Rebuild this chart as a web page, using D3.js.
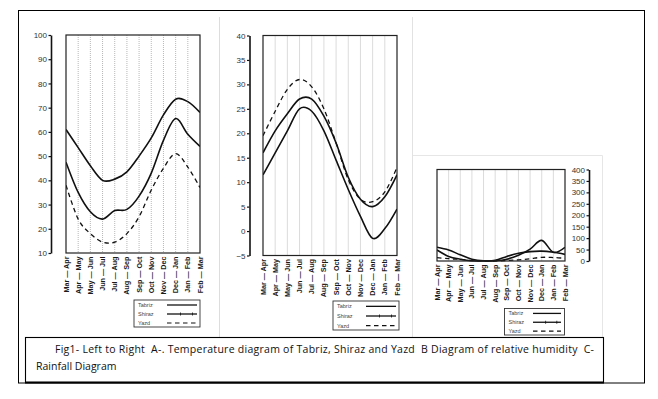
<!DOCTYPE html>
<html lang="en">
<head>
<meta charset="UTF-8">
<title>Fig1 - Tabriz, Shiraz, Yazd</title>
<script src="https://d3js.org/d3.v7.min.js"></script>
<style>
  body { margin: 0; background: #fff; }
  svg { display: block; }
  .tick text { font-family: Arial, "Liberation Sans", sans-serif; font-size: 8px; fill: #333; }
  .cat { font-family: Arial, "Liberation Sans", sans-serif; font-size: 7.2px; font-weight: bold; fill: #1a1a1a; }
  .leg text { font-family: Arial, "Liberation Sans", sans-serif; font-size: 5.5px; fill: #444; }
  .caption { font-family: "Open Sans", "Noto Sans", sans-serif; font-size: 10.5px; fill: #111; white-space: pre; }
</style>
</head>
<body>
<svg width="658" height="399"></svg>
<script>
const months = ["Mar — Apr", "Apr — May", "May — Jun", "Jun — Jul", "Jul — Aug", "Aug — Sep",
                "Sep — Oct", "Oct — Nov", "Nov — Dec", "Dec — Jan", "Jan — Feb", "Feb — Mar"];
const cities = ["Tabriz", "Shiraz", "Yazd"];

// left panel (0-100 scale)
const tabrizHum = [61, 53.5, 46, 40, 40.5, 43.5, 50, 57.5, 67, 73.5, 72.5, 68];
const shirazHum = [47.5, 35, 27, 24, 27.5, 28, 33.5, 43, 56.5, 65.5, 59, 54];
const yazdHum   = [38, 24, 18, 14.5, 14.5, 18, 25, 36, 45, 51, 45.5, 37];
const humTicks  = [10, 20, 30, 40, 50, 60, 70, 80, 90, 100];

// middle panel (-5..40)
const tabrizTemp = [11.5, 16, 20.5, 25, 24.5, 20.5, 14.5, 8.5, 3, -1.5, 0.5, 4.5];
const shirazTemp = [16, 20.5, 24, 27, 27, 23.5, 18, 11, 6.5, 5, 7, 11.5];
const yazdTemp   = [19.5, 24.5, 29, 31, 29.5, 25, 18, 10.5, 6.5, 6, 8, 13];
const tempTicks  = [-5, 0, 5, 10, 15, 20, 25, 30, 35, 40];

// right panel (rainfall 0..400)
const tabrizRain = [60, 48, 27, 8, 1, 3, 20, 34, 41, 43, 38, 29];
const shirazRain = [48, 20, 8, 1, 0, 1, 8, 25, 52, 90, 38, 60];
const yazdRain   = [15, 10, 7, 2, 0, 0, 2, 5, 10, 16, 15, 12];
const rainTicks  = [0, 50, 100, 150, 200, 250, 300, 350, 400];

const captionLines = [
  "Fig1- Left to Right  A-. Temperature diagram of Tabriz, Shiraz and Yazd  B Diagram of relative humidity  C-",
  "Rainfall Diagram"
];

const svg = d3.select("svg");

// frame, separators
svg.append("rect").attr("x", 18.5).attr("y", 10.5).attr("width", 626).attr("height", 372.5)
  .attr("fill", "none").attr("stroke", "#000").attr("stroke-width", 1);
svg.append("line").attr("x1", 219.5).attr("x2", 219.5).attr("y1", 17).attr("y2", 337)
  .attr("stroke", "#ddd");
svg.append("line").attr("x1", 412.5).attr("x2", 412.5).attr("y1", 17).attr("y2", 337)
  .attr("stroke", "#e2e2e2");
svg.append("path").attr("d", "M413,155.5H602.5V337").attr("fill", "none").attr("stroke", "#e6e6e6");

const panels = [
  { x0: 66, x1: 200, y0: 35, y1: 253, axisX: 51, ticks: humTicks,
    series: [tabrizHum, shirazHum, yazdHum], legend: { x: 134, y: 300, w: 66, h: 27, lx: 167, lw: 30 } },
  { x0: 263, x1: 397, y0: 35.5, y1: 255.5, axisX: 249.5, ticks: tempTicks,
    series: [tabrizTemp, shirazTemp, yazdTemp], legend: { x: 333, y: 301, w: 66, h: 29, lx: 366, lw: 30 } },
  { x0: 437, x1: 565, y0: 169.5, y1: 261, axisX: 589, ticks: rainTicks,
    series: [tabrizRain, shirazRain, yazdRain], legend: { x: 504.5, y: 308.5, w: 60, h: 26.5, lx: 533, lw: 28 } }
];

const dashes = [null, null, "4.5,3.5"];

panels.forEach((p, pi) => {
  const x = d3.scalePoint().domain(months).range([p.x0, p.x1]);
  const y = d3.scaleLinear().domain(d3.extent(p.ticks)).range([p.y1, p.y0]);
  const g = svg.append("g");

  // dotted vertical grid
  g.selectAll("line.grid").data(months.slice(1, -1)).join("line")
    .attr("x1", d => x(d)).attr("x2", d => x(d))
    .attr("y1", p.y0).attr("y2", p.y1)
    .attr("stroke", "#9a9a9a").attr("stroke-width", 0.7).attr("stroke-dasharray", "1,1");

  const clipId = "clip" + pi;
  svg.append("clipPath").attr("id", clipId).append("rect")
    .attr("x", p.x0).attr("y", p.y0).attr("width", p.x1 - p.x0).attr("height", p.y1 - p.y0 + 1);

  const line = d3.line()
    .x((d, i) => x(months[i]))
    .y(d => y(d))
    .curve(d3.curveCardinal.tension(0));

  p.series.forEach((s, si) => {
    g.append("path").datum(s)
      .attr("clip-path", `url(#${clipId})`)
      .attr("d", line)
      .attr("fill", "none").attr("stroke", "#111")
      .attr("stroke-width", si === 2 ? 1.3 : 1.6)
      .attr("stroke-dasharray", dashes[si]);
  });

  // plot box
  g.append("rect").attr("x", p.x0).attr("y", p.y0)
    .attr("width", p.x1 - p.x0).attr("height", p.y1 - p.y0)
    .attr("fill", "none").attr("stroke", "#222").attr("stroke-width", 1.2);

  // value axis
  const ax = g.append("g").attr("transform", `translate(${p.axisX},0)`)
    .call(d3.axisLeft(y).tickValues(p.ticks).tickSizeInner(2.5).tickSizeOuter(0).tickPadding(1.5));
  ax.select(".domain").attr("stroke", "#111").attr("stroke-width", 1.6);
  ax.selectAll(".tick line").attr("stroke", "#111").attr("stroke-width", 1.2);

  // rotated category labels
  g.selectAll("text.cat").data(months).join("text")
    .attr("class", "cat")
    .attr("transform", d => `translate(${x(d)},${p.y1 + 3.5}) rotate(-90)`)
    .attr("text-anchor", "end").attr("dy", "0.35em")
    .text(d => d);

  // legend
  const L = p.legend;
  const lg = g.append("g").attr("class", "leg");
  lg.append("rect").attr("x", L.x).attr("y", L.y).attr("width", L.w).attr("height", L.h)
    .attr("fill", "#fff").attr("stroke", "#333").attr("stroke-width", 0.9);
  const rowH = L.h / 3;
  cities.forEach((c, ci) => {
    const cy = L.y + rowH * (ci + 0.5) + 0.5;
    lg.append("text").attr("x", L.x + 4).attr("y", cy).attr("dy", "0.35em").text(c);
    lg.append("line").attr("x1", L.lx).attr("x2", L.lx + L.lw).attr("y1", cy).attr("y2", cy)
      .attr("stroke", "#111").attr("stroke-width", ci === 2 ? 1.1 : 1.3)
      .attr("stroke-dasharray", dashes[ci]);
    if (ci === 1) {
      [0.45, 0.85].forEach(f => {
        lg.append("line").attr("x1", L.lx + L.lw * f).attr("x2", L.lx + L.lw * f)
          .attr("y1", cy - 1.5).attr("y2", cy + 1.5).attr("stroke", "#111").attr("stroke-width", 0.8);
      });
    }
  });
});

// caption
svg.append("rect").attr("x", 25.5).attr("y", 337.5).attr("width", 578).attr("height", 45)
  .attr("fill", "#fff").attr("stroke", "#000").attr("stroke-width", 1.1);
svg.append("line").attr("x1", 25).attr("x2", 604).attr("y1", 382.5).attr("y2", 382.5)
  .attr("stroke", "#000").attr("stroke-width", 2);
svg.append("text").attr("class", "caption").attr("x", 55).attr("y", 353)
  .attr("textLength", 539).attr("lengthAdjust", "spacing").text(captionLines[0]);
svg.append("text").attr("class", "caption").attr("x", 36).attr("y", 369.5).text(captionLines[1]);
</script>
</body>
</html>
